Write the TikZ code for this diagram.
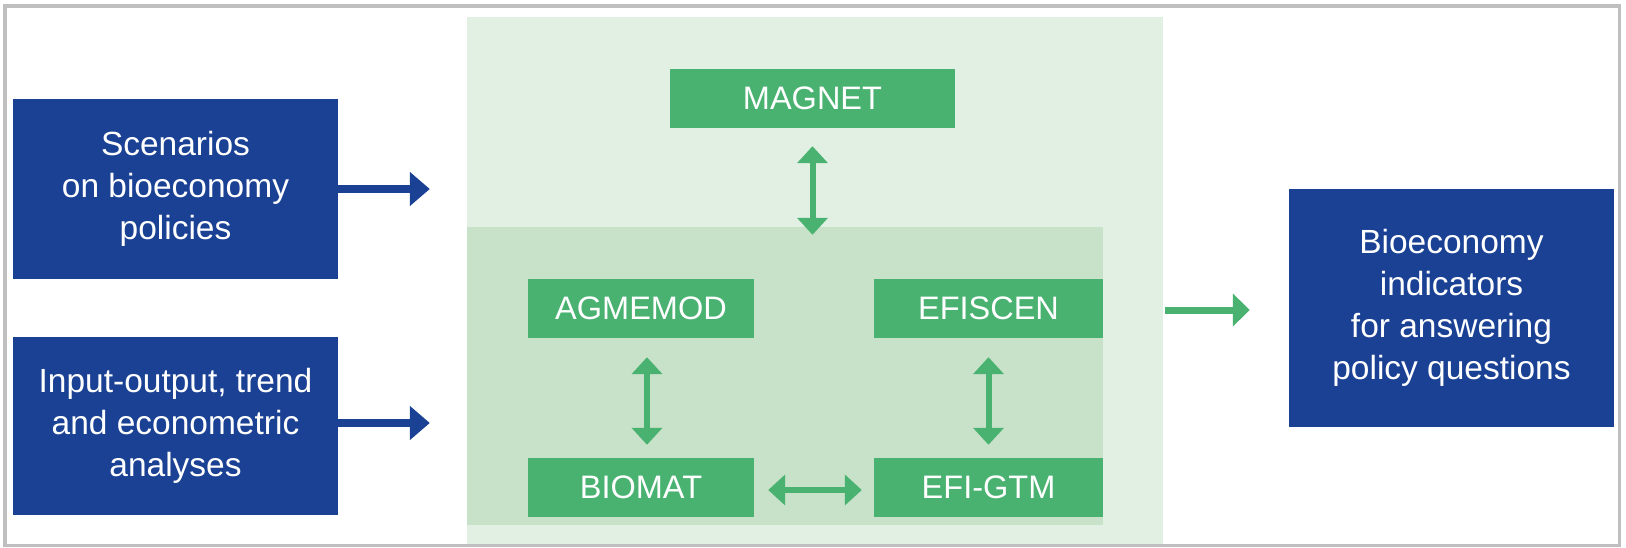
\documentclass[tikz,border=0pt]{standalone}
\usepackage{fontspec}
\setmainfont{Liberation Sans}
\usetikzlibrary{arrows.meta,calc}
\definecolor{jblue}{HTML}{1A4194}
\definecolor{jgreen}{HTML}{4AB271}
\definecolor{panelA}{HTML}{E2F0E4}
\definecolor{panelB}{HTML}{C8E1C9}
\definecolor{frame}{HTML}{BFBFBF}
\tikzset{
  x=1pt, y=-1pt,
  bluebox/.style={fill=jblue, draw=none, inner sep=0pt, text=white, align=center,
    font=\fontsize{33.5}{42}\selectfont},
  greenbox/.style={fill=jgreen, draw=none, inner sep=0pt, text=white,
    font=\fontsize{32.5}{38}\selectfont},
  panel/.style={draw=none, inner sep=0pt},
  bluearrow/.style={draw=jblue, line width=8pt, -{Triangle[length=20pt,width=33pt]}},
  greenarrow/.style={draw=jgreen, line width=7pt, -{Triangle[length=17pt,width=32pt]}},
  twoway/.style={draw=jgreen, line width=6pt, {Triangle[length=17pt,width=30pt]}-{Triangle[length=17pt,width=30pt]}},
}
\begin{document}
\begin{tikzpicture}
\useasboundingbox (0,0) rectangle (1626,548);
\fill[white] (0,0) rectangle (1626,548);
% panels
\node[panel, fill=panelA, minimum width=696pt, minimum height=527pt] (outer) at (815,280.5) {};
\node[panel, fill=panelB, minimum width=636pt, minimum height=298pt] (inner) at (785,376) {};
% frame
\draw[frame, line width=3.5pt] (5,6) rectangle (1619.5,545.5);
% blue boxes
\node[bluebox, minimum width=325pt, minimum height=180pt] (scen) at (175.5,189) {Scenarios\\on bioeconomy\\policies};
\node[bluebox, minimum width=325pt, minimum height=178pt] (io) at (175.5,426) {Input-output, trend\\and econometric\\analyses};
\node[bluebox, minimum width=325pt, minimum height=238pt] (ind) at (1451.5,308) {Bioeconomy\\indicators\\for answering\\policy questions};
% green boxes
\node[greenbox, minimum width=285pt, minimum height=59pt] (magnet) at (812.5,98.5) {MAGNET};
\node[greenbox, minimum width=226pt, minimum height=59pt] (agme) at (641,308.5) {AGMEMOD};
\node[greenbox, minimum width=226pt, minimum height=59pt] (biomat) at (641,487.5) {BIOMAT};
\node[greenbox, minimum width=229pt, minimum height=59pt] (efisc) at (988.5,308.5) {EFISCEN};
\node[greenbox, minimum width=229pt, minimum height=59pt] (efigtm) at (988.5,487.5) {EFI-GTM};
% arrows
\draw[bluearrow, shorten >=37pt] (scen.east) -- (scen.east -| outer.west);
\draw[bluearrow, shorten >=37pt] ($(io.east)+(0,-3)$) -- ($(io.east -| outer.west)+(0,-3)$);
\draw[greenarrow, shorten >=39pt, shorten <=2pt] ($(outer.east)+(0,29.5)$) -- ($(ind.west)+(0,2)$);
\draw[twoway, shorten <=18pt, shorten >=-8pt] (magnet.south) -- (magnet.south |- inner.north);
\draw[twoway, shorten <=19pt, shorten >=13pt] ($(agme.south)+(6,0)$) -- ($(biomat.north)+(6,0)$);
\draw[twoway, shorten <=19pt, shorten >=13pt] (efisc.south) -- (efigtm.north);
\draw[twoway, shorten <=14pt, shorten >=12pt] ($(biomat.east)+(0,2.5)$) -- ($(efigtm.west)+(0,2.5)$);
\end{tikzpicture}
\end{document}
